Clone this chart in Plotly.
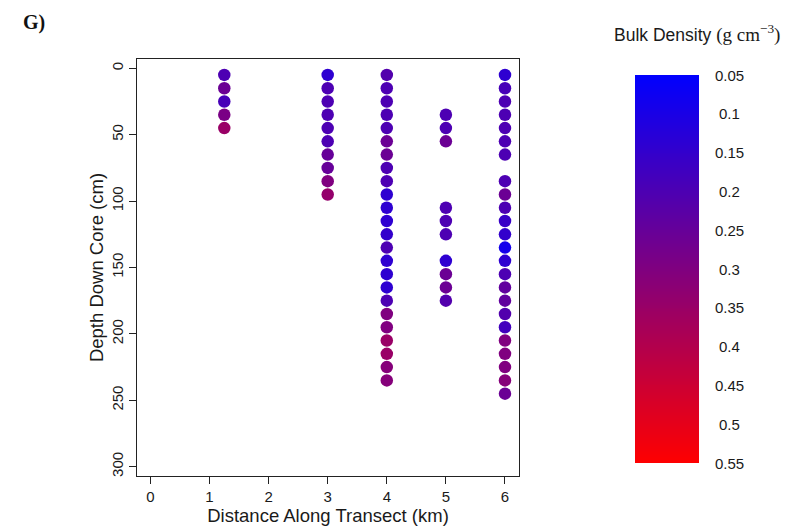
import numpy as np
import plotly.graph_objects as go

# Core positions along the transect (km)
core_km = [1.25, 3, 4, 5, 6]

# Sample mid-depths (cm) and bulk density (g cm^-3) for each core
depth_1 = [5, 15, 25, 35, 45]
bd_1 = [0.20, 0.26, 0.19, 0.29, 0.35]

depth_2 = [5, 15, 25, 35, 45, 55, 65, 75, 85, 95]
bd_2 = [0.14, 0.20, 0.20, 0.20, 0.20, 0.20, 0.25, 0.25, 0.30, 0.34]

depth_3 = [5, 15, 25, 35, 45, 55, 65, 75, 85, 95, 105, 115,
           125, 135, 145, 155, 165, 175, 185, 195, 205, 215, 225, 235]
bd_3 = [0.21, 0.20, 0.20, 0.20, 0.20, 0.26, 0.26, 0.20, 0.20, 0.14, 0.14, 0.14,
        0.15, 0.20, 0.14, 0.14, 0.14, 0.20, 0.30, 0.30, 0.35, 0.35, 0.31, 0.31]

depth_4 = [35, 45, 55, 105, 115, 125, 145, 155, 165, 175]
bd_4 = [0.20, 0.20, 0.26, 0.20, 0.20, 0.20, 0.14, 0.26, 0.26, 0.21]

depth_5 = [5, 15, 25, 35, 45, 55, 65, 85, 95, 105, 115, 125, 135,
           145, 155, 165, 175, 185, 195, 205, 215, 225, 235, 245]
bd_5 = [0.14, 0.19, 0.20, 0.20, 0.20, 0.20, 0.20, 0.20, 0.26, 0.20, 0.16, 0.15, 0.09,
        0.14, 0.20, 0.24, 0.24, 0.21, 0.18, 0.30, 0.30, 0.30, 0.31, 0.26]

depths = [depth_1, depth_2, depth_3, depth_4, depth_5]
densities = [bd_1, bd_2, bd_3, bd_4, bd_5]

# Colour key
bd_min, bd_max = 0.05, 0.55
key_ticks = [0.05, 0.1, 0.15, 0.2, 0.25, 0.3, 0.35, 0.4, 0.45, 0.5, 0.55]
blue_red = [[0.0, "rgb(0,0,255)"], [1.0, "rgb(255,0,0)"]]

W, H = 785, 526
SANS = "Liberation Sans, Arial, sans-serif"
INK = "#1a1a1a"


def px_x(p):
    return p / W


def px_y(p):
    return 1 - p / H


x_all, y_all, c_all = [], [], []
for km, d, b in zip(core_km, depths, densities):
    x_all += [km] * len(d)
    y_all += d
    c_all += b

fig = go.Figure()

fig.add_trace(go.Scatter(
    x=x_all, y=y_all, mode="markers",
    marker=dict(size=12.5, color=c_all, colorscale=blue_red,
                cmin=bd_min, cmax=bd_max, showscale=False,
                line=dict(width=0)),
    xaxis="x", yaxis="y", hoverinfo="x+y+text",
    text=[f"{v:.2f}" for v in c_all],
))

# Gradient strip for the colour key
n_steps = 250
edges = np.linspace(bd_min, bd_max, n_steps + 1)
centres = (edges[:-1] + edges[1:]) / 2
fig.add_trace(go.Heatmap(
    x=[0, 1], y=edges, z=[[v] for v in centres],
    colorscale=blue_red, zmin=bd_min, zmax=bd_max,
    showscale=False, xaxis="x2", yaxis="y2", hoverinfo="skip",
))

tick_font = dict(family=SANS, size=15, color=INK)
title_font = dict(family=SANS, size=18.5, color=INK)

fig.update_layout(
    width=W, height=H,
    margin=dict(l=0, r=0, t=0, b=0),
    paper_bgcolor="white", plot_bgcolor="white",
    showlegend=False,
    font=tick_font,
    xaxis=dict(
        domain=[px_x(137), px_x(519)],
        range=[-0.227, 6.237],
        tickvals=[0, 1, 2, 3, 4, 5, 6],
        ticks="outside", ticklen=7, tickwidth=1, tickcolor="#222",
        showline=True, linecolor="#222", linewidth=1, mirror=True,
        showgrid=False, zeroline=False,
        tickfont=tick_font,
        title=dict(text="Distance Along Transect (km)", font=title_font, standoff=0),
    ),
    yaxis=dict(
        domain=[px_y(476), px_y(59)],
        range=[307, -7],
        tickvals=[0, 50, 100, 150, 200, 250, 300],
        tickangle=-90,
        ticks="outside", ticklen=7, tickwidth=1, tickcolor="#222",
        showline=True, linecolor="#222", linewidth=1, mirror=True,
        showgrid=False, zeroline=False,
        tickfont=tick_font,
        title=dict(text="Depth Down Core (cm)", font=title_font, standoff=0),
    ),
    xaxis2=dict(
        domain=[px_x(635), px_x(699)], range=[0, 1],
        visible=False, anchor="y2",
    ),
    yaxis2=dict(
        domain=[px_y(463), px_y(75)], range=[bd_max, bd_min],
        visible=False, anchor="x2",
    ),
)

# Colour key labels, centred to the right of the strip
for t in key_ticks:
    fig.add_annotation(
        x=px_x(729), xref="paper", y=t, yref="y2",
        text=f"{t:g}", showarrow=False, xanchor="center", yanchor="middle",
        font=dict(family=SANS, size=15, color=INK),
    )

# Colour key title
fig.add_annotation(
    x=px_x(697), y=px_y(33), xref="paper", yref="paper",
    text="Bulk Density <span style=\"font-family:'Liberation Serif',serif;font-size:19px\">(g cm<sup>\u22123</sup>)</span>",
    showarrow=False, xanchor="center", yanchor="middle",
    font=dict(family=SANS, size=17.5, color=INK),
)

# Panel label
fig.add_annotation(
    x=px_x(21), y=px_y(22), xref="paper", yref="paper",
    text="<b>G)</b>", showarrow=False, xanchor="left", yanchor="middle",
    font=dict(family="Liberation Serif, serif", size=20, color="#111"),
)

fig.write_html("out.html")
